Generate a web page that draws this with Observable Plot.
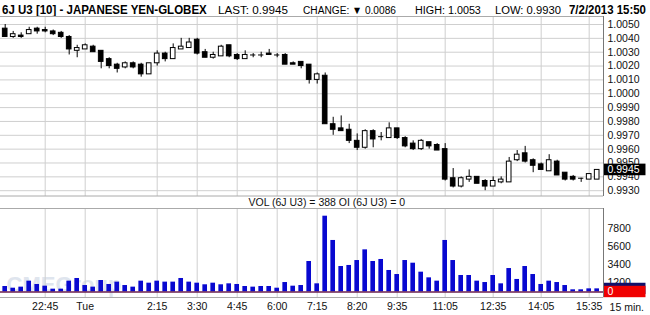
<!DOCTYPE html>
<html><head><meta charset="utf-8">
<script src="https://cdn.jsdelivr.net/npm/d3@7"></script>
<script src="https://cdn.jsdelivr.net/npm/@observablehq/plot@0.6"></script>
<style>
body{margin:0;background:#fff;}
#chart{position:relative;width:650px;height:315px;overflow:hidden;background:#fff;font-family:"Liberation Sans",Arial,sans-serif;}
#chart > svg{position:absolute;left:0;}
</style></head><body><div id="chart"></div>
<script>
// ---- data (15-minute bars, 6J U3) ----
const opens  = [1.0047,1.0041,1.0042,1.0043,1.0047,1.0046,1.0045,1.0044,1.0041,1.0031,1.0032,1.0034,1.0031,1.0025,1.0021,1.0019,1.0022,1.0021,1.0014,1.0022,1.0029,1.0025,1.0032,1.0033,1.0039,1.0030,1.0026,1.0027,1.0035,1.0028,1.0025,1.0028,1.0028,1.0029,1.0028,1.0028,1.0022,1.0023,1.0021,1.0010,1.0013,0.9978,0.9975,0.9974,0.9966,0.9961,0.9973,0.9969,0.9968,0.9975,0.9968,0.9964,0.9960,0.9965,0.9963,0.9960,0.9939,0.9933,0.9938,0.9940,0.9937,0.9933,0.9936,0.9936,0.9952,0.9957,0.9952,0.9949,0.9944,0.9951,0.9943,0.9940,0.9939,0.9938,0.9938];
const highs  = [1.0050,1.0045,1.0044,1.0048,1.0048,1.0048,1.0046,1.0045,1.0042,1.0035,1.0036,1.0035,1.0031,1.0026,1.0022,1.0023,1.0023,1.0022,1.0022,1.0031,1.0030,1.0036,1.0040,1.0040,1.0040,1.0032,1.0030,1.0035,1.0035,1.0029,1.0031,1.0029,1.0030,1.0032,1.0029,1.0029,1.0023,1.0023,1.0021,1.0015,1.0015,0.9983,0.9984,0.9978,0.9971,0.9974,0.9974,0.9972,0.9979,0.9975,0.9969,0.9966,0.9967,0.9965,0.9964,0.9964,0.9946,0.9940,0.9945,0.9940,0.9938,0.9940,0.9940,0.9954,0.9959,0.9962,0.9953,0.9950,0.9956,0.9952,0.9943,0.9941,0.9939,0.9942,0.9945];
const lows   = [1.0041,1.0040,1.0040,1.0043,1.0043,1.0044,1.0042,1.0040,1.0028,1.0026,1.0032,1.0030,1.0018,1.0018,1.0015,1.0018,1.0018,1.0012,1.0014,1.0020,1.0023,1.0025,1.0032,1.0033,1.0028,1.0026,1.0025,1.0027,1.0026,1.0024,1.0025,1.0026,1.0026,1.0028,1.0026,1.0021,1.0021,1.0018,1.0007,1.0007,0.9978,0.9970,0.9973,0.9964,0.9959,0.9960,0.9961,0.9966,0.9968,0.9967,0.9961,0.9959,0.9959,0.9960,0.9959,0.9937,0.9932,0.9932,0.9936,0.9935,0.9930,0.9933,0.9935,0.9936,0.9951,0.9950,0.9943,0.9945,0.9944,0.9941,0.9937,0.9937,0.9936,0.9938,0.9938];
const closes = [1.0041,1.0043,1.0041,1.0046,1.0045,1.0045,1.0043,1.0041,1.0032,1.0033,1.0035,1.0030,1.0023,1.0020,1.0018,1.0022,1.0019,1.0014,1.0022,1.0029,1.0025,1.0033,1.0034,1.0037,1.0029,1.0026,1.0028,1.0034,1.0027,1.0025,1.0028,1.0028,1.0028,1.0028,1.0028,1.0021,1.0021,1.0020,1.0010,1.0014,0.9978,0.9974,0.9973,0.9966,0.9961,0.9973,0.9967,0.9969,0.9975,0.9968,0.9962,0.9960,0.9966,0.9962,0.9959,0.9938,0.9933,0.9939,0.9940,0.9935,0.9933,0.9937,0.9938,0.9951,0.9956,0.9951,0.9948,0.9945,0.9952,0.9941,0.9938,0.9938,0.9939,0.9942,0.9945];
const volumes = [680,470,600,1340,930,720,350,350,1340,1670,800,600,1420,930,1220,800,600,1340,1090,1340,1220,1220,1670,1220,1090,890,1090,890,1010,930,680,600,680,680,470,1170,720,800,3770,1010,9370,6370,3150,3280,3890,5210,3770,4020,2660,2160,3890,3560,2450,1750,1340,6370,3890,2040,2040,1340,1170,2040,1010,2900,1550,3150,2160,930,1340,1170,800,270,270,390,388];
const tickIndex  = [5,10,19,24,29,34,39,44,49,55,61,67,73];
const tickLabels = ["22:45","Tue","2:15","3:30","4:45","6:00","7:15","8:20","9:35","11:05","12:35","14:05","15:35"];
const priceTicks = [0.9930,0.9940,0.9950,0.9960,0.9970,0.9980,0.9990,1.0000,1.0010,1.0020,1.0030,1.0040,1.0050];
const volumeTicks = [1200,3400,5600,7800];
const lastPrice = 0.9945, lastVolume = 388, openInterest = 0;
const headerTitle = "6J U3 [10] - JAPANESE YEN-GLOBEX";
const headerLast = "LAST: 0.9945", headerChange = "CHANGE: \u25BC 0.0086", headerHigh = "HIGH: 1.0053", headerLow = "LOW: 0.9930", headerDate = "7/2/2013 15:50";
const volLabel = "VOL (6J U3) = 388 OI (6J U3) = 0";
const periodLabel = "15 min.";
const watermark = "CMEGroup";

const candles = opens.map((o, i) => ({i, open: o, high: highs[i], low: lows[i], close: closes[i]}));
const vols = volumes.map((v, i) => ({i, v}));
const chart = document.getElementById("chart");
const FONT = "'Liberation Sans', Arial, sans-serif";

// ---- header (each text horizontally scaled to its width in the reference) ----
const ns = "http://www.w3.org/2000/svg";
const head = document.createElementNS(ns, "svg");
head.setAttribute("width", 650); head.setAttribute("height", 16);
head.style.top = "0px";
chart.appendChild(head);
const headItems = [
  [headerTitle, 2, 205, 13.5, "bold"],
  [headerLast, 218, 70, 11, "normal"],
  [headerChange, 303, 93, 11, "normal"],
  [headerHigh, 415, 66, 11, "normal"],
  [headerLow, 495, 66, 11, "normal"],
  [headerDate, 569, 77, 13.5, "bold"]
];
for (const [t, x, w, fs, fw] of headItems) {
  const el = document.createElementNS(ns, "text");
  el.setAttribute("x", 0); el.setAttribute("y", 0);
  el.setAttribute("font-family", FONT); el.setAttribute("font-size", fs); el.setAttribute("font-weight", fw);
  el.setAttribute("fill", "#000");
  el.textContent = t;
  head.appendChild(el);
  const natural = el.getComputedTextLength() || w;
  el.setAttribute("transform", `translate(${x},14) scale(${(w / natural).toFixed(4)},1)`);
}

const xDomain = [-0.5875, 74.79];
const grid = "#cfcfcf";
const fmt4 = d3.format(".4f");

// ---- price panel ----
const pxPerUnit = 13850; // px per 1.0 price
const pricePlot = Plot.plot({
  width: 650, height: 180, marginLeft: 0, marginRight: 47, marginTop: 0, marginBottom: 0,
  x: {domain: xDomain, axis: null, label: null},
  y: {domain: [0.992581, 1.005578], axis: null, label: null},
  style: {fontFamily: FONT, fontSize: "10.5px", background: "transparent", overflow: "visible"},
  marks: [
    Plot.ruleY(priceTicks, {stroke: grid}),
    Plot.ruleX(tickIndex, {stroke: grid}),
    Plot.ruleX(candles, {x: "i", y1: "low", y2: "high", stroke: "#000"}),
    Plot.rect(candles.filter(d => d.open !== d.close), {x1: d => d.i - 0.29, x2: d => d.i + 0.29, y1: "open", y2: "close", fill: d => d.close > d.open ? "#fff" : "#000", stroke: "#000"}),
    Plot.ruleY(candles.filter(d => d.open === d.close), {y: "open", x1: d => d.i - 0.33, x2: d => d.i + 0.33, stroke: "#000"}),
    Plot.axisY(priceTicks, {anchor: "right", label: null, tickSize: 0, tickPadding: 4, tickFormat: fmt4, fill: "#111"}),
    Plot.rect([lastPrice], {x1: xDomain[1], x2: 80.1, y1: d => d - 5.8 / pxPerUnit, y2: d => d + 5.8 / pxPerUnit, fill: "#000"}),
    Plot.text([lastPrice], {x: xDomain[1], y: d => d, dx: 4, textAnchor: "start", text: fmt4, fill: "#fff"}),
    Plot.ruleX([xDomain[1]], {stroke: "#777"}),
    Plot.ruleY([1.005578], {stroke: "#aaa"}),
    Plot.ruleY([0.992581], {stroke: "#aaa", dy: -0.5})
  ]
});
pricePlot.style.top = "16px";
chart.appendChild(pricePlot);

// ---- volume panel ----
const vPerPx = 1 / 0.00809;
const volPlot = Plot.plot({
  width: 650, height: 119, marginLeft: 0, marginRight: 47, marginTop: 12, marginBottom: 18,
  x: {domain: xDomain, axis: null, label: null},
  y: {domain: [-680, 10321], axis: null, label: null},
  style: {fontFamily: FONT, fontSize: "10.5px", background: "transparent", overflow: "visible"},
  marks: [
    Plot.text([watermark], {frameAnchor: "bottom-left", dx: 6, dy: -6, text: d => d, fontSize: 22, fontWeight: "bold", fill: "#dfe5ee", textAnchor: "start"}),
    Plot.ruleX(tickIndex, {stroke: grid}),
    Plot.rect(vols, {x1: d => d.i - 0.29, x2: d => d.i + 0.29, y1: 0, y2: "v", fill: "#0808d0"}),
    Plot.ruleY([openInterest], {stroke: "#6a1f4f", strokeWidth: 1.5}),
    Plot.axisY(volumeTicks, {anchor: "right", label: null, tickSize: 0, tickPadding: 4, fill: "#111", tickFormat: d => String(d)}),
    Plot.rect([lastVolume], {x1: xDomain[1], x2: 80.1, y1: d => d - 5.6 * vPerPx, y2: d => d + 5.6 * vPerPx, fill: "#10106a"}),
    Plot.rect([openInterest], {x1: xDomain[1], x2: 80.1, y1: d => d - 5.7 * vPerPx, y2: d => d + 5.7 * vPerPx, fill: "#f00000"}),
    Plot.text([openInterest], {x: xDomain[1], y: d => d, dx: 4, textAnchor: "start", text: d => String(d), fill: "#fff"}),
    Plot.axisX(tickIndex, {anchor: "bottom", label: null, tickSize: 0, tickPadding: 5, tickFormat: d => tickLabels[tickIndex.indexOf(d)], fill: "#111"}),
    Plot.text([periodLabel], {x: 77.7, y: -680, dy: 10, text: d => d, fill: "#111"}),
    Plot.text([volLabel], {x: 40.2, y: 10321, dy: -6, text: d => d, fill: "#111"}),
    Plot.ruleX([xDomain[1]], {stroke: "#777"}),
    Plot.ruleY([10321], {stroke: "#aaa"}),
    Plot.ruleY([-680], {stroke: "#aaa"})
  ]
});
volPlot.style.top = "196px";
chart.appendChild(volPlot);
</script></body></html>
